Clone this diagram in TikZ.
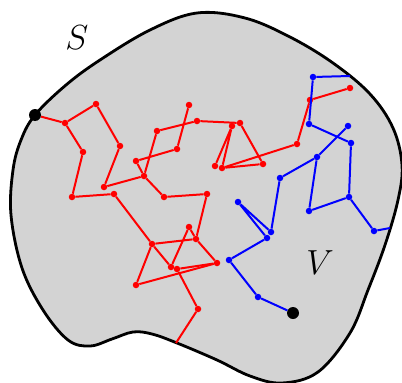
\documentclass[tikz,border=0pt]{standalone}
\definecolor{blobgray}{RGB}{211,211,211}
\begin{document}
\begin{tikzpicture}[
        x=1pt, y=-1pt,
        red dot/.style={circle, fill=red, inner sep=0pt, minimum size=6.5pt},
        blue dot/.style={circle, fill=blue, inner sep=0pt, minimum size=6.5pt},
        end dot/.style={circle, fill=black, inner sep=0pt, minimum size=12pt},
        red walk/.style={red, line width=2pt},
        blue walk/.style={blue, line width=2pt},
        set label/.style={font=\Huge, scale=1.4},
    ]
        \useasboundingbox (0,0) rectangle (402,383);

        % The region
        \draw[fill=blobgray, line width=2.8pt] plot[smooth cycle, tension=0.6] coordinates {
            (35,115) (66,85) (100,60) (150,30) (197,13) (245,18) (290,37)
            (333,63) (370,94) (393,128) (402,165) (398,200) (385,245)
            (368,290) (350,333) (318,372) (282,383) (250,376) (217,360)
            (177,343) (152,334) (133,332) (112,339) (90,346) (68,340)
            (43,310) (22,268) (11,215) (13,170) (21,140)};

        % Labels
        \node[set label] (slabel) at (77,38) {$S$};
        \node[set label] (vlabel) at (320,263) {$V$};

        % Red walk nodes
        \node[end dot] (start) at (35,115) {};
        \node[red dot] (r1) at (65,123) {};
        \node[red dot] (r2) at (96,104) {};
        \node[red dot] (r3) at (120,146) {};
        \node[red dot] (r4) at (104,187) {};
        \node[red dot] (r5) at (144,176) {};
        \node[red dot] (r6) at (83,152) {};
        \node[red dot] (r7) at (72,197) {};
        \node[red dot] (r8) at (114,194) {};
        \node[red dot] (r9) at (136,161) {};
        \node[red dot] (r10) at (157,131) {};
        \node[red dot] (r11) at (177,149) {};
        \node[red dot] (r12) at (189,105) {};
        \node[red dot] (r13) at (197,121) {};
        \node[red dot] (r14) at (164,197) {};
        \node[red dot] (r15) at (207,194) {};
        \node[red dot] (r16) at (240,123) {};
        \node[red dot] (r17) at (232,126) {};
        \node[red dot] (r18) at (215,166) {};
        \node[red dot] (r19) at (222,168) {};
        \node[red dot] (r20) at (263,164) {};
        \node[red dot] (r21) at (297,144) {};
        \node[red dot] (r22) at (310,100) {};
        \node[red dot] (r23) at (350,88) {};
        \node[red dot] (r24) at (152,244) {};
        \node[red dot] (r25) at (189,227) {};
        \node[red dot] (r26) at (196,239) {};
        \node[red dot] (r27) at (171,267) {};
        \node[red dot] (r28) at (177,269) {};
        \node[red dot] (r29) at (217,263) {};
        \node[red dot] (r30) at (136,285) {};
        \node[red dot] (r31) at (198,309) {};
        \coordinate (rexit) at (176,343);

        % Red walk
        \draw[red walk] (start) -- (r1) -- (r2) -- (r3) -- (r4) -- (r5) -- (r14) -- (r15) -- (r26)
            -- (r29) -- (r30) -- (r24) -- (r8) -- (r7) -- (r6) -- (r1);
        \draw[red walk] (r12) -- (r11) -- (r9) -- (r5) -- (r10) -- (r13) -- (r16) -- (r20)
            -- (r19) -- (r17) -- (r18);
        \draw[red walk] (r19) -- (r21) -- (r22) -- (r23);
        \draw[red walk] (r26) -- (r24) -- (r27) -- (r25) -- (r26);
        \draw[red walk] (r29) -- (r28) -- (r31) -- (rexit);

        % Blue walk nodes
        \node[end dot] (finish) at (293,313) {};
        \node[blue dot] (b1) at (313,77) {};
        \node[blue dot] (b2) at (309,124) {};
        \node[blue dot] (b3) at (351,143) {};
        \node[blue dot] (b4) at (348,126) {};
        \node[blue dot] (b5) at (317,157) {};
        \node[blue dot] (b6) at (349,197) {};
        \node[blue dot] (b7) at (309,211) {};
        \node[blue dot] (b8) at (280,178) {};
        \node[blue dot] (b9) at (271,232) {};
        \node[blue dot] (b10) at (374,231) {};
        \node[blue dot] (b11) at (238,202) {};
        \node[blue dot] (b12) at (267,238) {};
        \node[blue dot] (b13) at (229,260) {};
        \node[blue dot] (b14) at (258,297) {};
        \coordinate (bexit1) at (350,76);
        \coordinate (bexit2) at (390,228);

        % Blue walk
        \draw[blue walk] (finish) -- (b14) -- (b13) -- (b12) -- (b11) -- (b9) -- (b8) -- (b5) -- (b7)
            -- (b6) -- (b3) -- (b2) -- (b1) -- (bexit1);
        \draw[blue walk] (b5) -- (b4);
        \draw[blue walk] (b6) -- (b10) -- (bexit2);
    \end{tikzpicture}
\end{document}
